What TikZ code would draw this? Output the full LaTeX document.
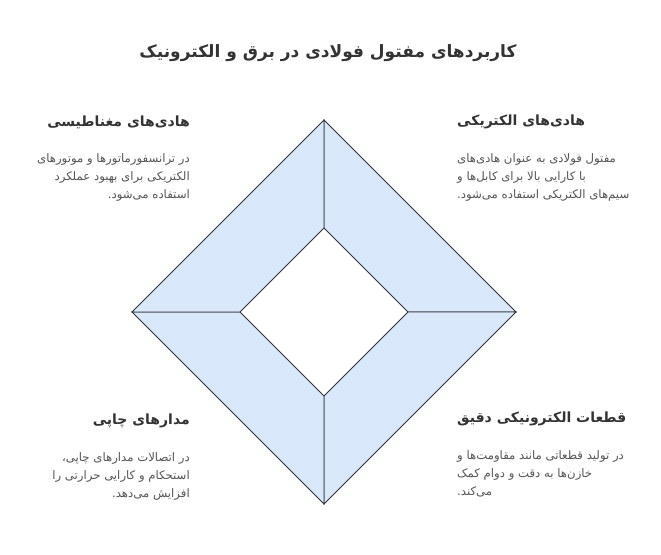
\documentclass[tikz,border=0pt]{standalone}
\usepackage{fontspec}
\newfontfamily\fafont[Script=Arabic]{DejaVu Sans}
\TeXXeTstate=1
\usetikzlibrary{positioning}
\definecolor{quadfill}{HTML}{DAE8FC}
\definecolor{edgegray}{HTML}{333333}
\definecolor{bodygray}{HTML}{555555}

\begin{document}
\begin{tikzpicture}[x=1pt, y=-1pt,
      quad/.style={fill=quadfill, draw=edgegray, line width=0.8pt, line join=miter},
      title/.style={font=\fafont\bfseries\fontsize{17}{20}\selectfont, text=edgegray, inner sep=0pt},
      heading/.style={font=\fafont\bfseries\fontsize{14}{16}\selectfont, text=edgegray, inner sep=0pt},
      body/.style={font=\fafont\fontsize{11.7}{18}\selectfont, text=bodygray, inner sep=0pt}
    ]
    \useasboundingbox[fill=white] (0,0) rectangle (661,554);

    % diamond corners
    \coordinate (ot) at (324,120);
    \coordinate (or) at (516,312);
    \coordinate (ob) at (324,504);
    \coordinate (ol) at (132,312);
    \coordinate (it) at (324,228);
    \coordinate (ir) at (408,312);
    \coordinate (ib) at (324,396);
    \coordinate (il) at (240,312);

    \draw[quad] (ot) -- (or) -- (ir) -- (it) -- cycle;
    \draw[quad] (or) -- (ob) -- (ib) -- (ir) -- cycle;
    \draw[quad] (ob) -- (ol) -- (il) -- (ib) -- cycle;
    \draw[quad] (ol) -- (ot) -- (it) -- (il) -- cycle;

    \node[title] (title) at (328,53) {\beginR کاربردهای مفتول فولادی در برق و الکترونیک\endR};

    % top left
    \node[heading, anchor=east] (magHead) at (190,122) {\beginR هادی‌های مغناطیسی\endR};
    \node[body, align=right, below left=31pt and 0pt of magHead.east] (magText)
      {\beginR در ترانسفورماتورها و موتورهای\endR\\
       \beginR الکتریکی برای بهبود عملکرد\endR\\
       \beginR استفاده می‌شود.\endR};

    % top right
    \node[heading, anchor=west] (elecHead) at (457,122) {\beginR هادی‌های الکتریکی\endR};
    \node[body, align=left, below right=31pt and 0pt of elecHead.west] (elecText)
      {\beginR مفتول فولادی به عنوان هادی‌های\endR\\
       \beginR با کارایی بالا برای کابل‌ها و\endR\\
       \beginR سیم‌های الکتریکی استفاده می‌شود.\endR};

    % bottom left
    \node[heading, anchor=east] (pcbHead) at (190,421) {\beginR مدارهای چاپی\endR};
    \node[body, align=right, below left=31pt and 0pt of pcbHead.east] (pcbText)
      {\beginR در اتصالات مدارهای چاپی،\endR\\
       \beginR استحکام و کارایی حرارتی را\endR\\
       \beginR افزایش می‌دهد.\endR};

    % bottom right
    \node[heading, anchor=west] (partHead) at (457,419) {\beginR قطعات الکترونیکی دقیق\endR};
    \node[body, align=left, below right=31pt and 0pt of partHead.west] (partText)
      {\beginR در تولید قطعاتی مانند مقاومت‌ها و\endR\\
       \beginR خازن‌ها به دقت و دوام کمک\endR\\
       \beginR می‌کند.\endR};
  \end{tikzpicture}
\end{document}
